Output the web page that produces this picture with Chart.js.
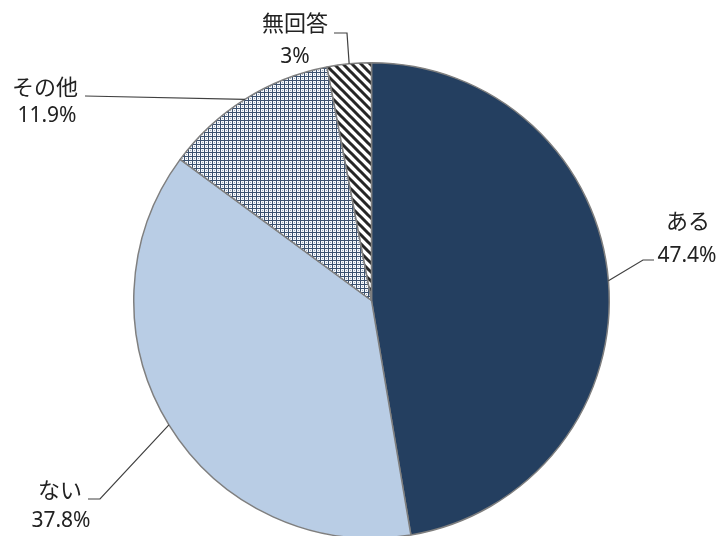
<!DOCTYPE html>
<html>
<head>
<meta charset="utf-8">
<script src="https://cdn.jsdelivr.net/npm/chart.js@4/dist/chart.umd.min.js"></script>
<style>
html,body{margin:0;padding:0;background:#fff;overflow:hidden;width:720px;height:536px;}
#wrap{position:relative;width:720px;height:536px;overflow:hidden;}
canvas{position:absolute;left:0;top:0;}
</style>
</head>
<body>
<div id="wrap"><canvas id="c" width="720" height="540"></canvas></div>
<script>
// ---- data ----
const categories = ['ある', 'ない', 'その他', '無回答'];
const values = [47.4, 37.8, 11.9, 3];
const valueLabels = ['47.4%', '37.8%', '11.9%', '3%'];

// ---- patterns ----
function crossPattern() {
  const s = 4;
  const c = document.createElement('canvas');
  c.width = s; c.height = s;
  const g = c.getContext('2d');
  g.fillStyle = '#f6f8fb';
  g.fillRect(0, 0, s, s);
  g.fillStyle = '#3a506e';
  for (let x = 0; x < s; x++) for (let y = 0; y < s; y++) {
    if (x === 0 || y === 0) g.fillRect(x, y, 1, 1);
  }
  g.fillStyle = '#9aa8ba';
  g.fillRect(2, 2, 1, 1);
  return document.getElementById('c').getContext('2d').createPattern(c, 'repeat');
}
function stripePattern() {
  const s = 9;
  const c = document.createElement('canvas');
  c.width = s; c.height = s;
  const g = c.getContext('2d');
  g.fillStyle = '#ffffff';
  g.fillRect(0, 0, s, s);
  g.strokeStyle = '#262626';
  g.lineWidth = 3;
  g.beginPath();
  g.moveTo(-2, -2); g.lineTo(s + 2, s + 2);
  g.moveTo(-3, s - 3); g.lineTo(3, s + 3);
  g.moveTo(s - 3, -3); g.lineTo(s + 3, 3);
  g.stroke();
  return document.getElementById('c').getContext('2d').createPattern(c, 'repeat');
}

// label layout (style only): leader path and text anchors
const labelLayout = [
  { path: [[643, 260], [654, 260]], name: [688, 221], val: [687, 256] },
  { path: [[100, 499], [88, 499]], name: [60, 490], val: [61, 521] },
  { path: [[85, 96]], name: [45, 87], val: [47, 116] },
  { path: [[347, 33], [334, 33]], name: [295, 23], val: [295, 57] }
];

const labelPlugin = {
  id: 'outLabels',
  afterDraw(chart) {
    const ctx = chart.ctx;
    const meta = chart.getDatasetMeta(0);
    ctx.save();
    meta.data.forEach((arc, i) => {
      const p = arc.getProps(['x', 'y', 'startAngle', 'endAngle', 'outerRadius'], true);
      const mid = (p.startAngle + p.endAngle) / 2;
      const sx = p.x + Math.cos(mid) * p.outerRadius;
      const sy = p.y + Math.sin(mid) * p.outerRadius;
      const L = labelLayout[i];
      ctx.strokeStyle = '#404040';
      ctx.lineWidth = 1.2;
      ctx.beginPath();
      ctx.moveTo(sx, sy);
      L.path.forEach(pt => ctx.lineTo(pt[0], pt[1]));
      ctx.stroke();
      ctx.fillStyle = '#222222';
      ctx.textAlign = 'center';
      ctx.textBaseline = 'middle';
      ctx.font = '22px "Noto Sans CJK JP"';
      ctx.fillText(categories[i], L.name[0], L.name[1]);
      ctx.font = '21px "Noto Sans", "Noto Sans CJK JP"';
      ctx.fillText(valueLabels[i], L.val[0], L.val[1]);
    });
    ctx.restore();
  }
};

new Chart(document.getElementById('c'), {
  type: 'pie',
  data: {
    labels: categories,
    datasets: [{
      data: values,
      backgroundColor: ['#243f60', '#b9cde5', crossPattern(), stripePattern()],
      borderColor: '#7f7f7f',
      borderWidth: 1.5
    }]
  },
  options: {
    responsive: false,
    animation: false,
    layout: { padding: { top: 62, bottom: 1, left: 133, right: 110 } },
    plugins: { legend: { display: false }, tooltip: { enabled: false } }
  },
  plugins: [labelPlugin]
});
</script>
</body>
</html>
